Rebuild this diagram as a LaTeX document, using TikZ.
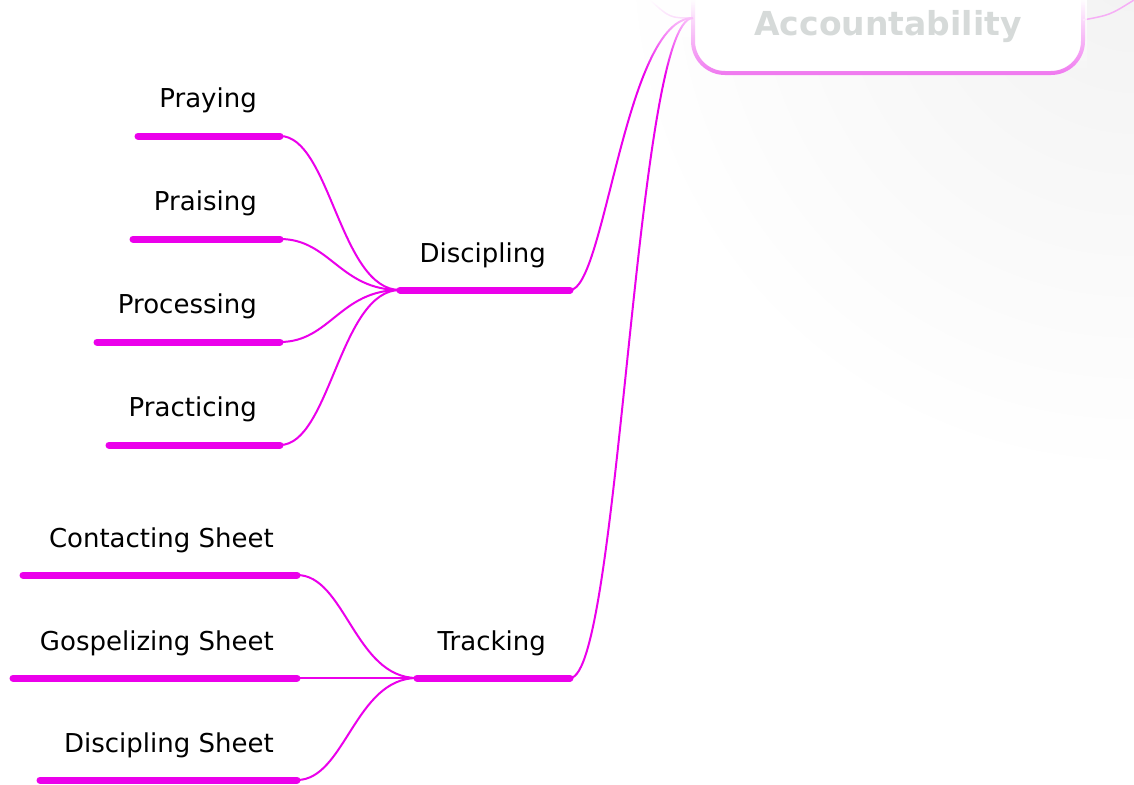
\documentclass[tikz,border=0pt]{standalone}
\usepackage{fontspec}
\setmainfont{DejaVu Sans}
\usetikzlibrary{fadings}
\definecolor{mag}{RGB}{235,0,235}
\definecolor{boxpink}{RGB}{240,120,240}
\definecolor{acctext}{RGB}{214,218,217}
\tikzset{
  bar/.style={line width=7pt, line cap=round, mag},
  link/.style={line width=2pt, mag},
  lbl/.style={anchor=base east, inner sep=0pt, font=\fontsize{26}{30}\selectfont},
}
\begin{document}
\begin{tikzpicture}[x=1pt,y=-1pt]
\useasboundingbox (0,0) rectangle (1134,784);
\fill[white] (0,0) rectangle (1134,784);
% faint background shading at upper right
\begin{scope}
\clip (0,0) rectangle (1134,784);
\shade[inner color=black!5, outer color=white] (1134,-40) circle (520);
\end{scope}

% Accountability box
\draw[line width=4pt, boxpink, fill=white, rounded corners=32pt] (693,-60) rectangle (1083,73);
\coordinate (accL) at (693,18);
\coordinate (accR) at (1083,20);
\draw[line width=1.5pt, boxpink] (accL) .. controls (670,18) .. (650,0);
\draw[line width=1.5pt, boxpink!60] (accR) .. controls (1110,15) .. (1134,0);

% Discipling
\coordinate (dL) at (400,290); \coordinate (dR) at (570,290);
\draw[bar] (dL) -- (dR);
\node[lbl] (disc) at (546,262) {Discipling};

% Tracking
\coordinate (tL) at (417,678); \coordinate (tR) at (570,678);
\draw[bar] (tL) -- (tR);
\node[lbl] (track) at (546,650) {Tracking};

% links to accountability
\draw[link] (dR) .. controls (605,290) and (625,18) .. (accL);
\draw[link] (tR) .. controls (620,678) and (635,18) .. (accL);

% Discipling children
\foreach \nm/\txt/\xl/\y in {pray/Praying/138/136, prai/Praising/133/239, proc/Processing/97/342, prac/Practicing/109/445}{
  \coordinate (\nm L) at (\xl,\y);
  \coordinate (\nm R) at (280,\y);
  \draw[bar] (\nm L) -- (\nm R);
  \node[lbl] (\nm) at (257,\y-29) {\txt};
  \draw[link] (\nm R) .. controls (330,\y) and (340,290) .. (dL);
}

% Tracking children
\foreach \nm/\txt/\xl/\y in {cont/Contacting Sheet/23/575, gosp/Gospelizing Sheet/13/678, dsht/Discipling Sheet/40/780}{
  \coordinate (\nm L) at (\xl,\y);
  \coordinate (\nm R) at (297,\y);
  \draw[bar] (\nm L) -- (\nm R);
  \node[lbl] (\nm) at (274,\y-28) {\txt};
  \draw[link] (\nm R) .. controls (345,\y) and (355,678) .. (tL);
}

% fade at the top of the box and links (y axis is flipped, so 'south' is the top)
\fill[white, path fading=south] (600,-1) rectangle (1087,75);
\node[anchor=base, inner sep=0pt, text=acctext, font=\fontsize{33}{36}\selectfont\bfseries] (acc) at (888,36) {Accountability};
\end{tikzpicture}
\end{document}
